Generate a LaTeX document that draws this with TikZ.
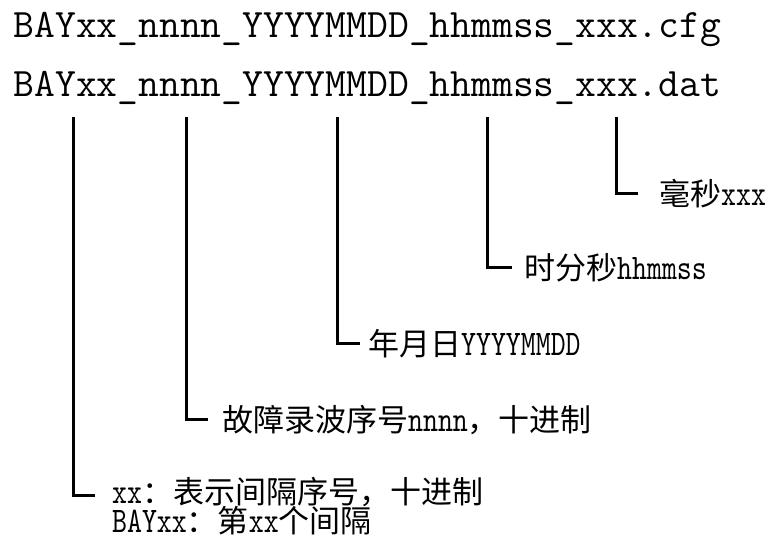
\documentclass[tikz,border=0pt]{standalone}
\usepackage{fontspec}
\newfontfamily\cjk{Noto Sans CJK SC}
\newfontfamily\lbltt[FakeStretch=0.79]{lmmono10-regular.otf}
\newcommand\titlefont{\fontsize{40.4}{40.4}\selectfont\ttfamily}
\newcommand\lbllat[1]{{\fontsize{36}{36}\selectfont\lbltt #1}}
\begin{document}
\begin{tikzpicture}[x=1pt,y=-1pt,
  conn/.style={line width=3pt, line join=miter},
  title/.style={anchor=base west, inner sep=0pt, font=\titlefont},
  lbl/.style={anchor=base west, inner sep=0pt, font=\fontsize{31}{31}\selectfont\cjk}]
\useasboundingbox (0,0) rectangle (773,539);
\node[title] (cfg) at (13.5,37) {BAYxx\_nnnn\_YYYYMMDD\_hhmmss\_xxx.cfg};
\node[title] (dat) at (13.5,96) {BAYxx\_nnnn\_YYYYMMDD\_hhmmss\_xxx.dat};
% connector tops and ends
\coordinate (t1) at (73,117);  \coordinate (e1) at (95,495);
\coordinate (t2) at (186,117); \coordinate (e2) at (208,419);
\coordinate (t3) at (337,117); \coordinate (e3) at (360,343);
\coordinate (t4) at (487,117); \coordinate (e4) at (512,267);
\coordinate (t5) at (616,117); \coordinate (e5) at (638,193);
\draw[conn] (t1) |- (e1);
\draw[conn] (t2) |- (e2);
\draw[conn] (t3) |- (e3);
\draw[conn] (t4) |- (e4);
\draw[conn] (t5) |- (e5);
% labels
\node[lbl] (l5) at (659,205) {毫秒\lbllat{xxx}};
\node[lbl] (l4) at (524,279) {时分秒\lbllat{hhmmss}};
\node[lbl] (l3) at (368,355) {年月日\lbllat{YYYYMMDD}};
\node[lbl] (l2) at (222,431) {故障录波序号\lbllat{nnnn}，十进制};
\node[lbl] (l1) at (112,503) {\lbllat{xx}：表示间隔序号，十进制};
\node[lbl] (l1b) at (112,532) {\lbllat{BAYxx}：第\lbllat{xx}个间隔};
\end{tikzpicture}
\end{document}
